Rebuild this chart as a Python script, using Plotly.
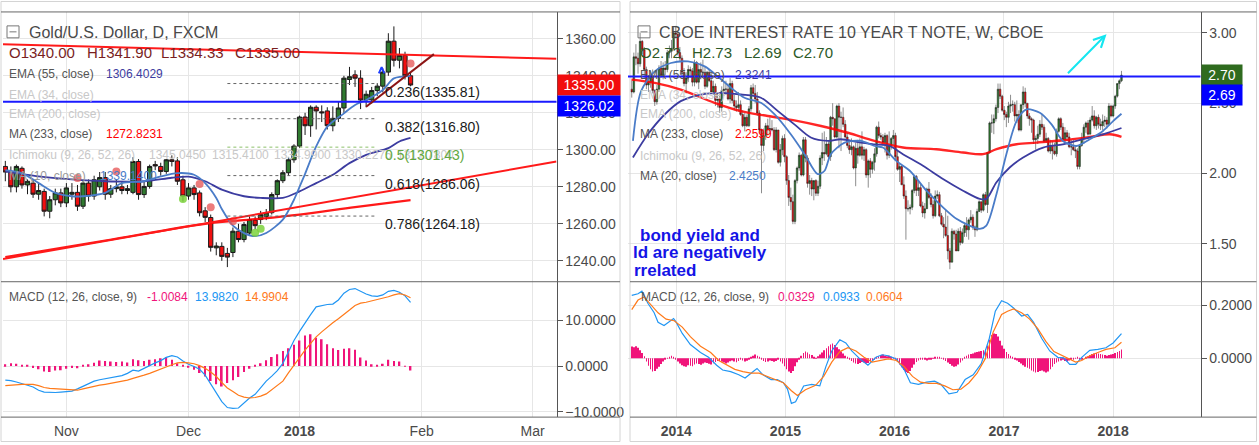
import plotly.graph_objects as go
import pandas as pd

W, H = 1259, 445
FONT = "Liberation Sans, Arial, sans-serif"


def px(x):
    return x / W


def py(y):
    return 1 - y / H


# ======================= LEFT: Gold / USD daily =======================
gold_holidays = ["2017-12-25", "2018-01-01"]
gold_dates = [d for d in pd.bdate_range("2017-10-17", "2018-01-30")
              if d.strftime("%Y-%m-%d") not in gold_holidays]

gold_open = [1291, 1288, 1280, 1290, 1281, 1282, 1276, 1277.5, 1266.8, 1273,
             1276.7, 1271.3, 1276, 1277, 1269.5, 1282, 1275, 1280, 1285, 1276,
             1279, 1280, 1278, 1277, 1293.7, 1275.8, 1280.2, 1292, 1291, 1288.3,
             1294.6, 1294, 1283.8, 1275, 1279.4, 1276.7, 1267, 1263.4, 1247, 1247.8,
             1244, 1244.5, 1256, 1251.5, 1255, 1262, 1262.3, 1264, 1266, 1275.8,
             1283.3, 1287.6, 1294.6, 1302, 1317.7, 1313, 1323, 1320.5, 1321, 1313,
             1317, 1322.6, 1338, 1340.5, 1338.7, 1326.9, 1327, 1332, 1334.4, 1342,
             1358.7, 1348.4, 1351, 1340]
gold_high = [1294, 1291, 1292, 1291, 1284, 1284, 1282, 1279, 1275, 1279,
             1279, 1282, 1282, 1281, 1283, 1284, 1286, 1288, 1288, 1281,
             1284, 1283, 1281, 1296, 1295, 1283, 1292, 1294, 1293, 1295,
             1297, 1296, 1286, 1282, 1281, 1278, 1269, 1265, 1250, 1250,
             1247, 1258, 1260, 1261, 1264, 1264, 1267, 1268, 1277, 1284,
             1289, 1296, 1303, 1318.5, 1320, 1324, 1324, 1324, 1323, 1323.5,
             1326, 1340, 1344.8, 1343, 1343, 1332, 1334, 1336, 1344, 1363,
             1366.7, 1355, 1353, 1341.9]
gold_low = [1283, 1277, 1277, 1279, 1276, 1274, 1273, 1264, 1263, 1270,
            1269, 1269, 1273, 1267, 1268, 1272, 1273, 1278, 1273, 1274,
            1277, 1276, 1276, 1276, 1273, 1274, 1279, 1289, 1286, 1287,
            1291, 1281, 1272, 1273, 1273, 1264, 1261, 1245, 1243, 1240,
            1236.6, 1242, 1250, 1250, 1254, 1257, 1260, 1262, 1265, 1274,
            1282, 1286, 1293, 1301, 1308, 1307, 1311, 1315, 1311, 1310,
            1315, 1320, 1335, 1334, 1322, 1323, 1325, 1329, 1331, 1340,
            1345, 1344, 1338, 1334.33]
gold_close = [1288, 1280, 1291, 1281, 1283, 1276, 1278, 1266.8, 1273, 1276.7,
              1271.3, 1279.4, 1277, 1269.5, 1282, 1275, 1283.8, 1285, 1276, 1279,
              1280, 1278, 1279, 1293.7, 1275.8, 1280.2, 1291, 1291.3, 1288.3, 1294.6,
              1293.7, 1283, 1275, 1279.4, 1275.8, 1266, 1263.5, 1247.3, 1248, 1242.4,
              1242, 1256, 1251.5, 1259.6, 1262.3, 1259, 1265, 1266, 1275.8, 1283.3,
              1287.6, 1294.6, 1302, 1317.7, 1313, 1323, 1321, 1320, 1313, 1317,
              1322.6, 1338.7, 1339.5, 1338.7, 1326.9, 1330, 1332, 1334.4, 1342, 1358.7,
              1348.4, 1351, 1340, 1335]

# indicator lines (bar index, value)
gold_ema55_idx = [0, 6, 12, 18, 25, 30, 33, 36, 39, 43, 46, 50, 53, 56, 59, 62, 65, 69, 71, 73]
gold_ema55_val = [1288.3, 1285.6, 1284, 1283, 1283, 1284.9, 1285.5, 1283, 1278.5, 1274.9,
                  1274, 1274, 1277.5, 1282, 1286.5, 1292.8, 1297.3, 1300.9, 1304.5, 1306.4]
gold_ma10_idx = [0, 3, 6, 9, 12, 14, 18, 21, 25, 28, 31, 34, 36, 38, 39, 41, 43, 45, 47, 50,
                 52, 53, 54, 56, 58, 61, 63, 65, 68, 70, 73]
gold_ma10_val = [1289, 1287.4, 1282, 1276.7, 1274.9, 1274.9, 1276.7, 1282, 1283, 1285.6,
                 1287.4, 1286.5, 1282, 1274, 1268, 1259, 1255, 1253.3, 1255, 1262.3,
                 1273, 1280, 1287, 1301.8, 1312.5, 1319.7, 1324.2, 1326.9, 1332.3, 1338.6, 1339.8]
gold_ma233_idx = [0, 18, 36, 45, 53, 63, 73]
gold_ma233_val = [1242, 1251, 1260, 1262.5, 1265, 1269, 1272.8]

gold_red_dot_idx = [13, 20, 35, 37, 41, 73]
gold_red_dot_val = [1284.7, 1288.3, 1281.5, 1269, 1261.4, 1346.6]
gold_green_dot_idx = [32, 45, 46]
gold_green_dot_val = [1273.4, 1255.2, 1257.3]

fib_ratios = ["0.236", "0.382", "0.5", "0.618", "0.786"]
fib_levels = [1335.81, 1316.80, 1301.43, 1286.06, 1264.18]

gold_macd = [-3.1, -3.2, -3.5, -3.8, -4.2, -4.6, -5.3, -5.7, -5.8, -5.8,
             -5.7, -5.6, -5.5, -5.0, -4.4, -3.9, -3.3, -3.0, -2.8, -2.6,
             -2.4, -2.1, -1.6, -0.9, -1.1, -0.5, 0.2, 0.7, 1.2, 1.9,
             2.3, 2.0, 1.1, 0.4, -0.1, -0.7, -2.0, -4.0, -6.0, -7.8,
             -9.1, -9.3, -9.2, -8.0, -7.0, -6.2, -4.8, -3.3, -2.2, -1.0,
             0.6, 3.0, 5.6, 7.6, 9.6, 11.3, 13.0, 13.3, 13.5, 13.6,
             14.5, 16.0, 16.8, 17.0, 16.4, 15.8, 15.4, 15.3, 15.6, 16.4,
             16.6, 16.2, 15.4, 13.98]
gold_signal = [-4.3, -4.2, -4.0, -4.0, -4.0, -4.0, -4.3, -4.7, -4.9, -5.0,
               -5.1, -5.1, -5.2, -5.3, -5.0, -4.7, -4.4, -4.2, -4.0, -3.8,
               -3.6, -3.4, -3.1, -2.7, -2.4, -2.0, -1.6, -1.1, -0.7, -0.2,
               0.3, 0.7, 0.8, 0.7, 0.5, 0.1, -0.5, -1.3, -2.3, -3.6,
               -4.8, -5.6, -6.4, -6.8, -7.0, -6.9, -6.6, -6.1, -5.2, -4.3,
               -3.3, -1.5, 0.2, 1.8, 3.5, 5.0, 6.4, 7.5, 8.6, 9.5,
               10.4, 11.3, 12.3, 13.3, 13.8, 14.0, 14.3, 14.5, 14.8, 15.2,
               15.6, 15.9, 15.6, 14.99]
gold_hist = [0.4, 0.6, 0.5, 0.3, 0.1, -0.4, -0.7, -1.2, -1.3, -1.0,
             -0.9, -0.6, -0.4, -0.5, 0.3, 0.4, 0.7, 1.2, 1.1, 1.0,
             0.9, 1.0, 0.8, 1.5, 1.3, 1.1, 1.4, 1.5, 1.7, 2.0,
             1.4, 0.6, 0.1, -0.3, -0.8, -1.5, -2.3, -3.3, -4.0, -4.5,
             -3.7, -3.1, -2.4, -1.3, -0.6, 0.1, 0.6, 1.3, 2.0, 2.6,
             3.3, 3.9, 4.7, 5.6, 6.7, 7.0, 6.2, 5.9, 4.8, 3.9,
             3.5, 3.8, 3.9, 3.6, 1.9, 1.2, 0.4, 0.1, 0.5, 1.4,
             1.1, 1.0, 0.05, -1.0]

gold_tickvals = ["2017-11-01", "2017-12-01", "2018-01-02", "2018-02-01", "2018-03-01"]
gold_ticktext = ["Nov", "Dec", "<b>2018</b>", "Feb", "Mar"]
GOLD_X0, GOLD_X1 = "2017-10-16 14:00", "2018-03-07 07:00"

# ======================= RIGHT: CBOE 10Y weekly =======================
yield_first_open = 2.60
yield_close = (
    [2.58, 2.83, 2.82, 2.78, 2.94, 2.88, 2.74, 2.63, 2.65, 2.69, 2.59, 2.51, 2.60, 2.75, 2.70, 2.75,
     2.74, 2.86, 2.87, 2.89, 3.00, 2.99]
    + [2.86, 2.82, 2.72, 2.64, 2.68, 2.74, 2.73, 2.65, 2.79, 2.65, 2.74, 2.72, 2.72, 2.62, 2.72, 2.66,
       2.58, 2.62, 2.52, 2.53, 2.47, 2.59, 2.60, 2.60, 2.53, 2.64, 2.52, 2.48, 2.47, 2.49, 2.42, 2.34,
       2.40, 2.34, 2.46, 2.61, 2.57, 2.53, 2.43, 2.31, 2.20, 2.27, 2.34, 2.31, 2.32, 2.31, 2.17, 2.31,
       2.08, 2.17, 2.25, 2.12]
    + [1.95, 1.83, 1.80, 1.66, 1.95, 2.04, 2.13, 1.99, 2.24, 2.11, 1.93, 1.95, 1.89, 1.95, 1.86, 1.91,
       2.11, 2.15, 2.14, 2.21, 2.12, 2.40, 2.39, 2.26, 2.48, 2.40, 2.40, 2.35, 2.26, 2.20, 2.17, 2.19,
       2.04, 2.18, 2.13, 2.19, 2.13, 2.17, 1.99, 2.09, 2.03, 2.08, 2.14, 2.33, 2.27, 2.26, 2.22, 2.27,
       2.13, 2.20, 2.25, 2.27]
    + [2.12, 2.03, 2.05, 1.92, 1.84, 1.75, 1.75, 1.76, 1.88, 1.98, 1.88, 1.90, 1.77, 1.72, 1.75, 1.89,
       1.83, 1.78, 1.70, 1.84, 1.85, 1.70, 1.64, 1.62, 1.56, 1.45, 1.37, 1.59, 1.57, 1.45, 1.59, 1.51,
       1.58, 1.63, 1.60, 1.67, 1.69, 1.62, 1.60, 1.73, 1.80, 1.74, 1.85, 1.78, 2.15, 2.36, 2.36, 2.39,
       2.47, 2.60, 2.55, 2.45]
    + [2.42, 2.40, 2.48, 2.49, 2.49, 2.41, 2.42, 2.31, 2.49, 2.58, 2.50, 2.41, 2.39, 2.38, 2.24, 2.25,
       2.28, 2.35, 2.33, 2.23, 2.25, 2.16, 2.20, 2.16, 2.14, 2.30, 2.39, 2.33, 2.24, 2.29, 2.26, 2.19,
       2.19, 2.17, 2.16, 2.05, 2.20, 2.25, 2.33, 2.36, 2.28, 2.38, 2.41, 2.34, 2.40, 2.35, 2.34, 2.37,
       2.38, 2.35, 2.48, 2.41]
    + [2.48, 2.55, 2.64, 2.66, 2.70]
)
yield_high = (
    [2.66, 2.86, 2.92, 2.86, 3.00, 2.95, 2.90, 2.76, 2.70, 2.72, 2.74, 2.60, 2.63, 2.77, 2.80, 2.79,
     2.80, 2.88, 2.91, 2.95, 3.04, 3.05]
    + [3.01, 2.90, 2.84, 2.75, 2.72, 2.77, 2.76, 2.75, 2.81, 2.80, 2.78, 2.79, 2.81, 2.76, 2.73, 2.74,
       2.72, 2.66, 2.64, 2.58, 2.57, 2.62, 2.65, 2.66, 2.64, 2.68, 2.66, 2.56, 2.52, 2.58, 2.52, 2.45,
       2.43, 2.42, 2.48, 2.63, 2.64, 2.63, 2.58, 2.45, 2.32, 2.32, 2.36, 2.39, 2.40, 2.38, 2.33, 2.33,
       2.31, 2.21, 2.27, 2.28]
    + [2.13, 1.99, 1.90, 1.85, 1.96, 2.05, 2.15, 2.14, 2.26, 2.26, 2.13, 1.99, 1.97, 1.95, 1.96, 1.95,
       2.13, 2.29, 2.30, 2.26, 2.23, 2.41, 2.50, 2.39, 2.49, 2.50, 2.44, 2.47, 2.38, 2.29, 2.24, 2.25,
       2.20, 2.22, 2.24, 2.25, 2.30, 2.19, 2.18, 2.10, 2.11, 2.09, 2.18, 2.34, 2.37, 2.29, 2.28, 2.29,
       2.28, 2.30, 2.26, 2.31]
    + [2.29, 2.17, 2.07, 2.06, 1.98, 1.88, 1.81, 1.78, 1.89, 1.99, 1.99, 1.95, 1.93, 1.80, 1.79, 1.90,
       1.94, 1.86, 1.81, 1.88, 1.88, 1.87, 1.72, 1.69, 1.74, 1.70, 1.47, 1.61, 1.60, 1.60, 1.61, 1.62,
       1.61, 1.65, 1.69, 1.68, 1.74, 1.71, 1.63, 1.75, 1.81, 1.80, 1.86, 1.87, 2.15, 2.37, 2.42, 2.42,
       2.49, 2.64, 2.64, 2.56]
    + [2.48, 2.44, 2.51, 2.56, 2.52, 2.51, 2.52, 2.45, 2.49, 2.62, 2.61, 2.50, 2.43, 2.40, 2.39, 2.27,
       2.34, 2.38, 2.42, 2.35, 2.29, 2.26, 2.24, 2.23, 2.22, 2.32, 2.40, 2.40, 2.36, 2.33, 2.31, 2.29,
       2.24, 2.24, 2.19, 2.18, 2.21, 2.29, 2.35, 2.37, 2.38, 2.40, 2.48, 2.45, 2.41, 2.42, 2.39, 2.42,
       2.41, 2.40, 2.50, 2.49]
    + [2.49, 2.56, 2.64, 2.67, 2.73]
)
yield_low = (
    [2.54, 2.57, 2.77, 2.71, 2.76, 2.85, 2.68, 2.60, 2.58, 2.61, 2.57, 2.48, 2.49, 2.58, 2.68, 2.67,
     2.70, 2.72, 2.82, 2.82, 2.88, 2.96]
    + [2.84, 2.80, 2.69, 2.62, 2.57, 2.65, 2.68, 2.62, 2.62, 2.64, 2.60, 2.67, 2.68, 2.60, 2.61, 2.65,
       2.57, 2.56, 2.48, 2.47, 2.43, 2.44, 2.55, 2.56, 2.52, 2.50, 2.50, 2.45, 2.44, 2.44, 2.41, 2.33,
       2.30, 2.33, 2.33, 2.44, 2.55, 2.50, 2.41, 2.29, 1.86, 2.16, 2.24, 2.27, 2.28, 2.30, 2.16, 2.15,
       2.07, 2.05, 2.13, 2.08]
    + [1.92, 1.77, 1.74, 1.64, 1.64, 1.93, 2.02, 1.98, 1.98, 2.08, 1.90, 1.85, 1.84, 1.81, 1.84, 1.84,
       1.89, 2.06, 2.09, 2.13, 2.10, 2.09, 2.34, 2.25, 2.25, 2.18, 2.16, 2.33, 2.25, 2.18, 2.14, 2.13,
       2.03, 1.91, 2.07, 2.12, 2.10, 2.09, 1.97, 1.90, 1.97, 2.00, 2.02, 2.12, 2.25, 2.24, 2.20, 2.15,
       2.10, 2.11, 2.17, 2.20]
    + [2.09, 2.02, 1.94, 1.92, 1.82, 1.53, 1.73, 1.71, 1.74, 1.86, 1.84, 1.84, 1.76, 1.69, 1.68, 1.75,
       1.82, 1.76, 1.68, 1.69, 1.82, 1.69, 1.63, 1.54, 1.55, 1.39, 1.32, 1.37, 1.53, 1.45, 1.45, 1.49,
       1.50, 1.55, 1.55, 1.53, 1.65, 1.60, 1.55, 1.59, 1.73, 1.72, 1.73, 1.77, 1.72, 2.14, 2.29, 2.28,
       2.37, 2.43, 2.53, 2.44]
    + [2.38, 2.33, 2.36, 2.43, 2.44, 2.37, 2.36, 2.30, 2.30, 2.46, 2.47, 2.39, 2.34, 2.29, 2.21, 2.17,
       2.21, 2.26, 2.31, 2.22, 2.22, 2.15, 2.14, 2.10, 2.13, 2.12, 2.29, 2.31, 2.23, 2.22, 2.23, 2.18,
       2.13, 2.16, 2.11, 2.03, 2.03, 2.19, 2.21, 2.29, 2.27, 2.28, 2.37, 2.32, 2.31, 2.32, 2.31, 2.31,
       2.33, 2.32, 2.34, 2.40]
    + [2.40, 2.46, 2.54, 2.60, 2.65]
)
assert len(yield_close) == len(yield_high) == len(yield_low) == 235
yield_open = [yield_first_open] + yield_close[:-1]
yield_dates = pd.date_range("2013-08-05", periods=len(yield_close), freq="7D")

yield_ma20_dates = ["2013-08-09", "2013-09-05", "2013-10-21", "2013-12-14", "2014-02-09", "2014-04-06",
                    "2014-05-20", "2014-07-03", "2014-08-17", "2014-10-11", "2014-11-26", "2015-01-19",
                    "2015-03-06", "2015-04-19", "2015-05-12", "2015-06-02", "2015-07-18", "2015-09-10",
                    "2015-10-26", "2015-11-23", "2016-01-07", "2016-02-21", "2016-04-17", "2016-06-11",
                    "2016-07-26", "2016-09-08", "2016-10-12", "2016-11-03", "2016-12-07", "2017-01-09",
                    "2017-02-12", "2017-03-17", "2017-05-01", "2017-06-09", "2017-07-17", "2017-08-31",
                    "2017-10-15", "2017-11-28", "2018-01-01", "2018-01-29"]
yield_ma20_val = [2.232, 2.585, 2.727, 2.786, 2.797, 2.762, 2.69, 2.61, 2.539, 2.503, 2.42, 2.279,
                  2.138, 1.996, 2.02, 2.138, 2.22, 2.232, 2.196, 2.185, 2.09, 2.02, 1.878, 1.76,
                  1.678, 1.63, 1.607, 1.63, 1.855, 2.138, 2.373, 2.456, 2.432, 2.35, 2.232, 2.196,
                  2.244, 2.303, 2.373, 2.425]
yield_ema55_dates = ["2013-08-09", "2013-09-28", "2013-11-23", "2014-01-16", "2014-03-24", "2014-05-30",
                     "2014-08-05", "2014-10-11", "2014-12-07", "2015-01-31", "2015-03-27", "2015-05-23",
                     "2015-07-05", "2015-09-10", "2015-10-26", "2015-12-16", "2016-01-29", "2016-04-05",
                     "2016-06-11", "2016-08-17", "2016-10-12", "2016-11-03", "2016-12-07", "2017-01-20",
                     "2017-03-06", "2017-05-12", "2017-07-17", "2017-09-22", "2017-11-28", "2018-01-29"]
yield_ema55_val = [2.114, 2.279, 2.42, 2.515, 2.562, 2.574, 2.562, 2.539, 2.444, 2.35, 2.256, 2.232,
                   2.244, 2.22, 2.208, 2.196, 2.138, 2.055, 1.961, 1.878, 1.82, 1.82, 1.938, 2.043,
                   2.114, 2.185, 2.208, 2.244, 2.279, 2.324]
yield_ma233_dates = ["2013-08-04", "2013-10-21", "2014-01-16", "2014-05-09", "2014-08-05", "2014-11-03",
                     "2015-01-31", "2015-04-30", "2015-07-29", "2015-10-26", "2016-01-29", "2016-05-20",
                     "2016-08-17", "2016-10-23", "2016-12-07", "2017-02-12", "2017-04-20", "2017-07-17",
                     "2017-10-15", "2017-12-21", "2018-01-29"]
yield_ma233_val = [2.668, 2.645, 2.597, 2.503, 2.444, 2.409, 2.378, 2.338, 2.29, 2.232, 2.185, 2.173,
                   2.15, 2.138, 2.173, 2.208, 2.22, 2.237, 2.26, 2.279, 2.26]

yield_macd_dates = ["2013-08-05", "2013-08-26", "2013-09-08", "2013-09-28", "2013-10-19", "2013-11-01",
                    "2013-11-21", "2013-12-12", "2013-12-23", "2014-01-01", "2014-01-21", "2014-02-17",
                    "2014-03-23", "2014-04-19", "2014-05-16", "2014-06-05", "2014-07-02", "2014-07-29",
                    "2014-08-19", "2014-09-08", "2014-09-28", "2014-10-18", "2014-11-14", "2014-12-05",
                    "2014-12-25", "2015-01-08", "2015-01-21", "2015-02-04", "2015-03-03", "2015-03-30",
                    "2015-04-26", "2015-05-16", "2015-06-05", "2015-07-02", "2015-07-22", "2015-08-11",
                    "2015-09-07", "2015-10-04", "2015-10-31", "2015-11-20", "2015-12-11", "2016-01-07",
                    "2016-02-03", "2016-02-23", "2016-03-21", "2016-04-17", "2016-05-14", "2016-06-04",
                    "2016-07-01", "2016-07-28", "2016-08-24", "2016-09-20", "2016-10-17", "2016-11-13",
                    "2016-12-03", "2016-12-24", "2017-01-13", "2017-02-02", "2017-03-01", "2017-03-21",
                    "2017-04-10", "2017-05-07", "2017-06-03", "2017-06-30", "2017-07-20", "2017-08-09",
                    "2017-08-29", "2017-09-18", "2017-10-15", "2017-11-11", "2017-12-08", "2018-01-01",
                    "2018-01-29"]
yield_macd_val = [0.2386, 0.2446, 0.2542, 0.2084, 0.1723, 0.1361, 0.1241, 0.1422, 0.1506, 0.1361,
                  0.094, 0.0518, 0.0217, 0.0036, -0.0265, -0.0446, -0.0506, -0.0627, -0.0747, -0.0566,
                  -0.0386, -0.0627, -0.0807, -0.0807, -0.0928, -0.1169, -0.1711, -0.1651, -0.1048, -0.0988,
                  -0.1048, -0.0325, 0.0277, 0.0699, 0.0578, 0.0277, -0.0024, -0.0265, 0.0036, 0.0133,
                  0.0096, -0.0024, -0.0446, -0.0928, -0.0988, -0.0904, -0.0867, -0.0988, -0.1349, -0.1289,
                  -0.0807, -0.0627, -0.0205, 0.0759, 0.1783, 0.2181, 0.2084, 0.1904, 0.1602, 0.1663,
                  0.1361, 0.0759, 0.0277, 0.0036, 0.0012, -0.0229, -0.0229, 0.0036, 0.0301, 0.0337,
                  0.0398, 0.0578, 0.0933]
yield_signal_dates = ["2013-08-05", "2013-08-26", "2013-09-15", "2013-10-05", "2013-11-01", "2013-11-28",
                      "2013-12-25", "2014-01-21", "2014-02-17", "2014-03-23", "2014-04-26", "2014-05-23",
                      "2014-06-19", "2014-07-16", "2014-08-12", "2014-09-08", "2014-10-05", "2014-11-01",
                      "2014-11-28", "2014-12-25", "2015-01-21", "2015-02-10", "2015-03-09", "2015-04-12",
                      "2015-05-09", "2015-06-05", "2015-07-02", "2015-07-29", "2015-08-25", "2015-09-21",
                      "2015-10-18", "2015-11-14", "2015-12-11", "2016-01-07", "2016-02-03", "2016-03-01",
                      "2016-03-28", "2016-04-24", "2016-05-21", "2016-06-17", "2016-07-14", "2016-08-10",
                      "2016-09-06", "2016-10-03", "2016-10-30", "2016-11-26", "2016-12-24", "2017-01-13",
                      "2017-02-02", "2017-03-01", "2017-03-28", "2017-04-24", "2017-05-21", "2017-06-17",
                      "2017-07-14", "2017-08-09", "2017-08-29", "2017-09-18", "2017-10-15", "2017-11-11",
                      "2017-12-08", "2018-01-07", "2018-01-29"]
yield_signal_val = [0.1843, 0.2205, 0.2325, 0.2084, 0.1723, 0.1482, 0.1422, 0.1181, 0.0819, 0.0458,
                    0.0217, -0.0084, -0.0265, -0.0422, -0.0506, -0.0566, -0.0566, -0.0687, -0.0807, -0.0928,
                    -0.1229, -0.141, -0.1193, -0.1024, -0.0687, -0.0145, 0.0253, 0.0398, 0.0277, 0.0036,
                    -0.0145, -0.0084, -0.0024, -0.0084, -0.0325, -0.0687, -0.0904, -0.0952, -0.0952, -0.1048,
                    -0.1193, -0.1169, -0.0928, -0.0566, -0.0024, 0.1, 0.1663, 0.1783, 0.1867, 0.1723,
                    0.1482, 0.112, 0.0639, 0.0253, 0.0096, -0.0024, -0.0145, -0.0084, 0.0096, 0.0217,
                    0.0337, 0.0398, 0.0604]
yield_hist = (
    [0.045, 0.042, 0.046, 0.040, 0.030, 0.020, 0.008]
    + [-0.012, -0.028, -0.042, -0.050, -0.048, -0.040, -0.032, -0.022, -0.012, -0.006]
    + [0.002, 0.006, 0.010, 0.004, -0.004]
    + [-0.012, -0.020, -0.026, -0.030, -0.032, -0.026, -0.028, -0.030, -0.024, -0.020,
       -0.022, -0.025, -0.020, -0.016, -0.018, -0.021, -0.024, -0.019, -0.014, -0.010]
    + [-0.010, -0.013, -0.016, -0.020, -0.016, -0.011, -0.008, -0.012, -0.015, -0.010,
       -0.006, -0.008, -0.012, -0.009, -0.004]
    + [0.004, 0.010, 0.014, 0.010, 0.004]
    + [-0.004, -0.010, -0.014, -0.012, -0.008, -0.010, -0.013, -0.010, -0.006, -0.012]
    + [-0.020, -0.030, -0.042, -0.050, -0.056, -0.048, -0.030, -0.015, -0.005]
    + [0.010, 0.020, 0.026, 0.022, 0.015, 0.012, 0.006, 0.002, 0.008]
    + [0.014, 0.022, 0.030, 0.038, 0.046, 0.052, 0.056, 0.050, 0.042, 0.034, 0.026, 0.018, 0.010, 0.004]
    + [-0.004, -0.010, -0.016, -0.020, -0.022, -0.018, -0.014, -0.016, -0.020, -0.018, -0.012, -0.008, -0.002]
    + [0.004, 0.008, 0.012, 0.014, 0.010, 0.008, 0.010, 0.006, 0.002]
    + [-0.006, -0.014, -0.024, -0.034, -0.044, -0.052, -0.056, -0.048, -0.036, -0.024, -0.014, -0.008]
    + [-0.006, -0.004, -0.006, -0.008, -0.004, -0.002, 0.002, 0.004]
    + [0.006, 0.004, 0.002, -0.004, -0.010]
    + [-0.016, -0.022, -0.028, -0.032, -0.030, -0.024, -0.016, -0.008]
    + [0.004, 0.010, 0.014, 0.016, 0.018, 0.022, 0.024, 0.026, 0.028, 0.030, 0.034]
    + [0.048, 0.070, 0.088, 0.094, 0.092, 0.082, 0.066, 0.048, 0.036]
    + [0.024, 0.016, 0.010, 0.004, -0.002]
    + [-0.008, -0.014, -0.020, -0.026, -0.032, -0.036, -0.040, -0.046, -0.050, -0.054,
       -0.052, -0.048, -0.046, -0.050, -0.054, -0.050, -0.042, -0.032, -0.022]
    + [-0.016, -0.012, -0.008, -0.006, -0.010, -0.012, -0.008, -0.004, -0.002, 0.002, 0.004, -0.002, -0.004, 0.000]
    + [0.004, 0.008, 0.012, 0.016, 0.018, 0.020, 0.018, 0.016, 0.014, 0.012, 0.010, 0.012,
       0.014, 0.016, 0.020, 0.024, 0.028, 0.033]
)
assert len(yield_hist) == 235

yield_tickvals = ["2014-01-01", "2015-01-01", "2016-01-01", "2017-01-01", "2018-01-01"]
yield_ticktext = ["<b>2014</b>", "<b>2015</b>", "<b>2016</b>", "<b>2017</b>", "<b>2018</b>"]
YLD_X0, YLD_X1 = "2013-07-23 12:00", "2018-10-20 07:00"

# colours
GREEN_BODY = "#2f7a2f"
RED_BODY = "#f01010"
MACD_BLUE = "#2196f3"
SIG_ORANGE = "#ff7a1a"
HIST_PINK = "#f0147a"
EMA_PURPLE = "#3c3ca0"
MA_STEEL = "#4a7cc8"
GRID = "#e6e6e6"

fig = go.Figure()

# ---------- left traces ----------
fig.add_trace(go.Candlestick(
    x=gold_dates, open=gold_open, high=gold_high, low=gold_low, close=gold_close,
    increasing=dict(fillcolor=GREEN_BODY, line=dict(color="#1a1a1a", width=1)),
    decreasing=dict(fillcolor=RED_BODY, line=dict(color="#1a1a1a", width=1)),
    xaxis="x", yaxis="y", hoverinfo="skip"))
fig.add_trace(go.Scatter(x=[gold_dates[i] for i in gold_ma233_idx], y=gold_ma233_val, mode="lines",
                         line=dict(color="rgba(255,0,0,0.9)", width=2.2, shape="spline"),
                         xaxis="x", yaxis="y", hoverinfo="skip"))
fig.add_trace(go.Scatter(x=[gold_dates[i] for i in gold_ema55_idx], y=gold_ema55_val, mode="lines",
                         line=dict(color=EMA_PURPLE, width=1.8, shape="spline", smoothing=0.8),
                         xaxis="x", yaxis="y", hoverinfo="skip"))
fig.add_trace(go.Scatter(x=[gold_dates[i] for i in gold_ma10_idx], y=gold_ma10_val, mode="lines",
                         line=dict(color=MA_STEEL, width=1.8, shape="spline", smoothing=0.8),
                         xaxis="x", yaxis="y", hoverinfo="skip"))
fig.add_trace(go.Scatter(x=[gold_dates[i] for i in gold_red_dot_idx], y=gold_red_dot_val, mode="markers",
                         marker=dict(color="rgba(230,80,80,0.75)", size=8),
                         xaxis="x", yaxis="y", hoverinfo="skip"))
fig.add_trace(go.Scatter(x=[gold_dates[i] for i in gold_green_dot_idx], y=gold_green_dot_val, mode="markers",
                         marker=dict(color="rgba(125,210,60,0.85)", size=8),
                         xaxis="x", yaxis="y", hoverinfo="skip"))
# small blue chevron drawing
fig.add_trace(go.Scatter(x=["2018-01-22 07:00", "2018-01-22 19:00", "2018-01-23 07:00"],
                         y=[1341.3, 1344.6, 1341.3], mode="lines",
                         line=dict(color="#1f3fff", width=2), xaxis="x", yaxis="y", hoverinfo="skip"))

fig.add_trace(go.Bar(x=gold_dates, y=gold_hist, marker=dict(color=HIST_PINK, line=dict(width=0)),
                     width=0.3 * 86400000, xaxis="x2", yaxis="y2", hoverinfo="skip"))
fig.add_trace(go.Scatter(x=gold_dates, y=gold_macd, mode="lines", line=dict(color=MACD_BLUE, width=1.2),
                         xaxis="x2", yaxis="y2", hoverinfo="skip"))
fig.add_trace(go.Scatter(x=gold_dates, y=gold_signal, mode="lines", line=dict(color=SIG_ORANGE, width=1.2),
                         xaxis="x2", yaxis="y2", hoverinfo="skip"))

# ---------- right traces ----------
fig.add_trace(go.Candlestick(
    x=yield_dates, open=yield_open, high=yield_high, low=yield_low, close=yield_close,
    increasing=dict(fillcolor=GREEN_BODY, line=dict(color="#1a1a1a", width=0.5)),
    decreasing=dict(fillcolor=RED_BODY, line=dict(color="#1a1a1a", width=0.5)),
    xaxis="x3", yaxis="y3", hoverinfo="skip"))
fig.add_trace(go.Scatter(x=yield_ma233_dates, y=yield_ma233_val, mode="lines",
                         line=dict(color="rgba(255,0,0,0.85)", width=2.4, shape="spline"),
                         xaxis="x3", yaxis="y3", hoverinfo="skip"))
fig.add_trace(go.Scatter(x=yield_ema55_dates, y=yield_ema55_val, mode="lines",
                         line=dict(color=EMA_PURPLE, width=1.8, shape="spline", smoothing=0.8),
                         xaxis="x3", yaxis="y3", hoverinfo="skip"))
fig.add_trace(go.Scatter(x=yield_ma20_dates, y=yield_ma20_val, mode="lines",
                         line=dict(color=MA_STEEL, width=1.8, shape="spline", smoothing=0.8),
                         xaxis="x3", yaxis="y3", hoverinfo="skip"))

fig.add_trace(go.Bar(x=yield_dates, y=yield_hist, marker=dict(color=HIST_PINK, line=dict(width=0)),
                     width=2.0 * 86400000, xaxis="x4", yaxis="y4", hoverinfo="skip"))
fig.add_trace(go.Scatter(x=yield_macd_dates, y=yield_macd_val, mode="lines",
                         line=dict(color=MACD_BLUE, width=1.2), xaxis="x4", yaxis="y4", hoverinfo="skip"))
fig.add_trace(go.Scatter(x=yield_signal_dates, y=yield_signal_val, mode="lines",
                         line=dict(color=SIG_ORANGE, width=1.2), xaxis="x4", yaxis="y4", hoverinfo="skip"))

# ---------- axes ----------
axis_font = dict(family=FONT, size=14, color="#4a4a4a")
ybase = dict(side="right", showgrid=True, gridcolor=GRID, zeroline=False, showline=True,
             linecolor="#555", linewidth=1, ticks="outside", ticklen=5, tickcolor="#555",
             tickfont=axis_font, fixedrange=True)
gold_breaks = [dict(bounds=["sat", "mon"]), dict(values=gold_holidays)]
L_DOM = [px(3), px(556.5)]
R_DOM = [px(628), px(1200.5)]
TOP_DOM = [py(283), py(12)]
BOT_DOM = [py(419), py(283)]

fig.update_layout(
    width=W, height=H, margin=dict(l=0, r=0, t=0, b=0),
    paper_bgcolor="white", plot_bgcolor="white", showlegend=False, hovermode=False,
    boxgap=0.15, boxgroupgap=0.1,
    xaxis=dict(domain=L_DOM, anchor="y", type="date", rangebreaks=gold_breaks,
               range=[GOLD_X0, GOLD_X1], tickvals=gold_tickvals, showticklabels=False,
               showgrid=True, gridcolor=GRID, zeroline=False, rangeslider=dict(visible=False)),
    yaxis=dict(domain=TOP_DOM, anchor="x", range=[1228.7, 1374.5], tick0=1240, dtick=20,
               tickformat=".2f", **ybase),
    xaxis2=dict(domain=L_DOM, anchor="y2", type="date", rangebreaks=gold_breaks,
                range=[GOLD_X0, GOLD_X1], tickvals=gold_tickvals, ticktext=gold_ticktext,
                showgrid=True, gridcolor=GRID, zeroline=False, tickfont=axis_font,
                ticklabelstandoff=4),
    yaxis2=dict(domain=BOT_DOM, anchor="x2", range=[-11.2, 18.5], tickvals=[-10, 0, 10],
                tickformat=".4f", **ybase),
    xaxis3=dict(domain=R_DOM, anchor="y3", type="date", range=[YLD_X0, YLD_X1],
                tickvals=yield_tickvals, showticklabels=False, showgrid=True, gridcolor=GRID,
                zeroline=False, rangeslider=dict(visible=False)),
    yaxis3=dict(domain=TOP_DOM, anchor="x3", range=[1.231, 3.149], tick0=1.5, dtick=0.5,
                tickformat=".2f", **ybase),
    xaxis4=dict(domain=R_DOM, anchor="y4", type="date", range=[YLD_X0, YLD_X1],
                tickvals=yield_tickvals, ticktext=yield_ticktext, showgrid=True, gridcolor=GRID,
                zeroline=False, tickfont=axis_font, ticklabelstandoff=4),
    yaxis4=dict(domain=BOT_DOM, anchor="x4", range=[-0.223, 0.29], tickvals=[0, 0.2],
                tickformat=".4f", **ybase),
)

# ---------- shapes ----------
shapes = []


def pline(x0, y0, x1, y1, color, width=1):
    shapes.append(dict(type="line", xref="paper", yref="paper", x0=px(x0), y0=py(y0),
                       x1=px(x1), y1=py(y1), line=dict(color=color, width=width), layer="above"))


def prect(x0, y0, x1, y1, color, width=1):
    shapes.append(dict(type="rect", xref="paper", yref="paper", x0=px(x0), y0=py(y0),
                       x1=px(x1), y1=py(y1), line=dict(color=color, width=width), layer="above"))


# outer panel frames
prect(1, 1.5, 620, 443.5, "#d4d4d4")
prect(630, 1.5, 1256.5, 443.5, "#d4d4d4")
for yy in (12, 283, 419):
    pline(1, yy, 620, yy, "#666")
    pline(630, yy, 1256.5, yy, "#666")
# legend collapse icons
prect(7, 26, 19, 38, "#777")
pline(9.5, 32, 16.5, 32, "#777")
prect(638, 26, 650, 38, "#777")
pline(640.5, 32, 647.5, 32, "#777")

# left drawings (data coordinates)
shapes.append(dict(type="line", xref="x domain", yref="y", x0=0, x1=1, y0=1326.02, y1=1326.02,
                   line=dict(color="#1a1aff", width=2), layer="above"))
shapes.append(dict(type="line", xref="x", yref="y", x0=GOLD_X0, x1=GOLD_X1, y0=1357.0, y1=1349.2,
                   line=dict(color="#ff1a1a", width=2), layer="above"))
shapes.append(dict(type="line", xref="x", yref="y", x0=GOLD_X0, x1=GOLD_X1, y0=1241.0, y1=1293.7,
                   line=dict(color="#ff1a1a", width=2), layer="above"))
shapes.append(dict(type="line", xref="x", yref="y", x0="2018-01-18", x1="2018-02-05 05:00",
                   y0=1323.3, y1=1351.7, line=dict(color="#8c1414", width=2), layer="above"))
for ratio, lvl in zip(fib_ratios, fib_levels):
    col = "#8cc06a" if ratio == "0.5" else "#666"
    shapes.append(dict(type="line", xref="x", yref="y", x0=gold_dates[40], x1=gold_dates[67],
                       y0=lvl, y1=lvl, line=dict(color=col, width=1, dash="dot"), layer="above"))
# right drawing
shapes.append(dict(type="line", xref="x3 domain", yref="y3", x0=0, x1=1, y0=2.69, y1=2.69,
                   line=dict(color="#1a1aff", width=2), layer="above"))
fig.update_layout(shapes=shapes)

# ---------- annotations ----------
ann = []


def label(x, y, text, color, size=12):
    ann.append(dict(xref="paper", yref="paper", x=px(x), y=py(y), text=text, showarrow=False,
                    xanchor="left", yanchor="middle", font=dict(family=FONT, size=size, color=color)))


FAINT = "#c8c8c8"
# left legend
label(26.5, 32.3, "Gold/U.S. Dollar, D, FXCM", "#4a4a4a", 16)
for xx, t in zip([7, 85, 159, 233], ["O1340.00", "H1341.90", "L1334.33", "C1335.00"]):
    label(xx, 52.3, t, "#7a1f1f", 15)
label(7, 74, "EMA (55, close)", "#555")
label(104, 74, "1306.4029", EMA_PURPLE)
label(7, 95, "EMA (34, close)", FAINT)
label(7, 115, "EMA (200, close)", FAINT)
label(7, 135, "MA (233, close)", "#555")
label(104, 135, "1272.8231", "#ff0000")
label(7, 156, "Ichimoku (9, 26, 52, 26)", FAINT)
for xx, t in zip([147, 210, 272, 333, 395], ["1345.0450", "1315.4100", "1334.9900", "1330.2275", "1317.7800"]):
    label(xx, 156, t, FAINT)
label(7, 177, "MA (10, close)", "#9a9a9a")
label(98, 177, "1339.1400", MA_STEEL)
label(7, 298.5, "MACD (12, 26, close, 9)", "#555")
label(145, 298.5, "-1.0084", HIST_PINK)
label(193, 298.5, "13.9820", MACD_BLUE)
label(243, 298.5, "14.9904", SIG_ORANGE)

# fib labels
for ratio, lvl in zip(fib_ratios, fib_levels):
    col = "#62a83e" if ratio == "0.5" else "#1a1a1a"
    ann.append(dict(xref="x", yref="y", x=gold_dates[68], y=lvl, yshift=-8,
                    text=f"{ratio}({lvl:.2f})", showarrow=False, xanchor="left", yanchor="middle",
                    font=dict(family=FONT, size=14, color=col)))

# right legend
label(657, 32.3, "CBOE INTEREST RATE 10 YEAR T NOTE, W, CBOE", "#4a4a4a", 16)
for xx, t in zip([638, 690, 742, 791], ["O2.72", "H2.73", "L2.69", "C2.70"]):
    label(xx, 52.3, t, "#2d5a27", 15)
label(638, 75, "EMA (55, close)", "#555")
label(733, 75, "2.3241", EMA_PURPLE)
label(638, 95, "EMA (34, close)", FAINT)
label(638, 115, "EMA (200, close)", FAINT)
label(638, 135, "MA (233, close)", "#555")
label(733, 135, "2.2599", "#ff0000")
label(638, 156.7, "Ichimoku (9, 26, 52, 26)", FAINT)
label(638, 176.7, "MA (20, close)", "#555")
label(727, 176.7, "2.4250", MA_STEEL)
label(639, 298.5, "MACD (12, 26, close, 9)", "#555")
label(776, 298.5, "0.0329", HIST_PINK)
label(821, 298.5, "0.0933", MACD_BLUE)
label(864, 298.5, "0.0604", SIG_ORANGE)

# blue comment text (clipped at pane edge in the original)
label(638, 236.7, "<b>bond yield and</b>", "#1414e6", 17)
label(631, 254, "<b>ld are negatively</b>", "#1414e6", 17)
label(632, 271.7, "<b>rrelated</b>", "#1414e6", 17)

# cyan arrow
ann.append(dict(xref="x3", yref="y3", axref="x3", ayref="y3", x="2017-12-10", y=2.991,
                ax="2017-07-29", ay=2.703, showarrow=True, arrowhead=5, arrowsize=1.1,
                arrowwidth=2, arrowcolor="#14e6f0", text=""))


# price boxes on the axes
def box(x, y, yref, text, bg, w):
    ann.append(dict(xref="paper", yref=yref, x=px(x), y=y, text=text, showarrow=False,
                    xanchor="left", yanchor="middle", bgcolor=bg, width=w, height=20, borderpad=0,
                    font=dict(family=FONT, size=14, color="white")))


box(557, gold_close[-1], "y", f"{gold_close[-1]:.2f}", "#f20d0d", 62)
box(557, py(106), "paper", "1326.02", "#0000ff", 62)
box(1201, yield_close[-1], "y3", f"{yield_close[-1]:.2f}", "#2f6b1f", 40)
box(1201, py(95.5), "paper", "2.69", "#0000ff", 40)

fig.update_layout(annotations=ann)
fig.write_html("out.html", config={"displayModeBar": False},
               post_script="document.body.style.margin='0px';document.body.style.overflow='hidden';")
